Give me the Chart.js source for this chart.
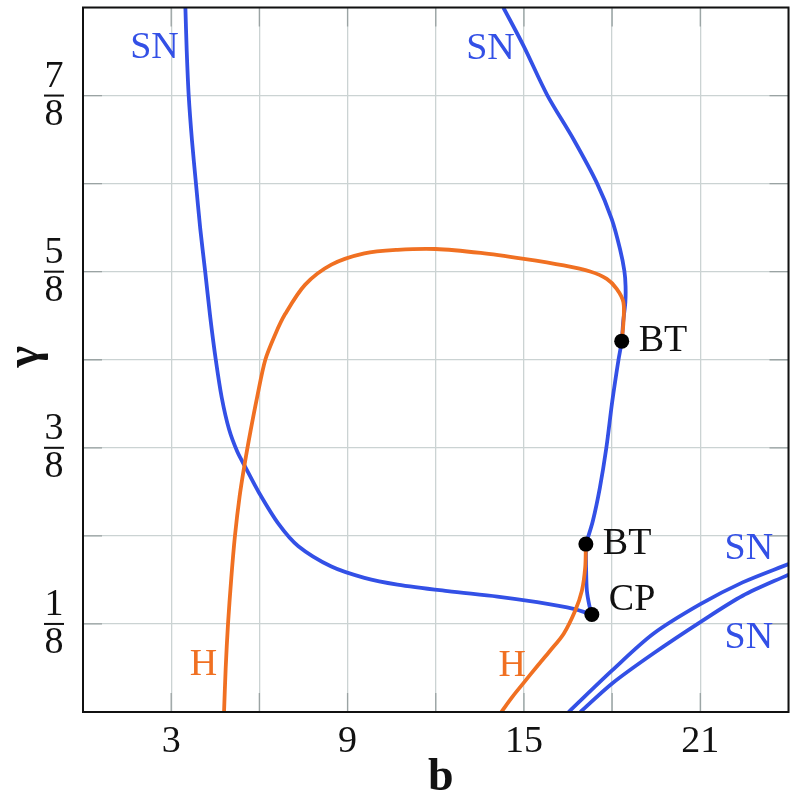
<!DOCTYPE html>
<html>
<head>
<meta charset="utf-8">
<script src="https://cdn.jsdelivr.net/npm/chart.js@4.4.1/dist/chart.umd.min.js"></script>
<style>
  html, body { margin: 0; padding: 0; background: #fff; }
  #wrap { width: 796px; height: 792px; }
</style>
</head>
<body>
<div id="wrap"><canvas id="chart" width="796" height="792"></canvas></div>
<script>
'use strict';

// axis setup
let xTickLabels = [3, 9, 15, 21];
let yTickLabels = [[1, 8], [3, 8], [5, 8], [7, 8]];

// SN curve, left branch: top-left down to the cusp CP
let snLeftB = [3.483, 3.528, 3.596, 3.708, 3.843, 3.989, 4.157, 4.326, 4.517, 4.719, 4.966, 5.247, 5.528, 5.978, 6.652, 7.326, 8.449, 9.573, 10.697, 12.405, 14.097, 15.45, 16.69, 17.31];
let snLeftG = [1.0, 0.939, 0.875, 0.811, 0.75, 0.686, 0.625, 0.5615, 0.5, 0.4464, 0.4016, 0.3697, 0.3472, 0.312, 0.267, 0.2353, 0.2065, 0.1905, 0.1809, 0.1716, 0.1638, 0.1558, 0.1465, 0.1384];

// SN curve, from CP up to the lower BT
let snCuspB = [17.31, 17.226, 17.141, 17.114, 17.107];
let snCuspG = [0.1384, 0.1511, 0.1723, 0.2052, 0.2383];

// SN curve, lower BT up through upper BT to the top
let snMidB = [17.107, 17.344, 17.581, 17.801, 18.004, 18.217, 18.326, 18.376, 18.45, 18.457, 18.417, 18.268, 17.987, 17.48, 16.69, 15.788, 15.0, 14.3];
let snMidG = [0.2383, 0.2712, 0.3178, 0.3743, 0.4407, 0.5, 0.5264, 0.5537, 0.5819, 0.6045, 0.6261, 0.6572, 0.6996, 0.751, 0.8126, 0.8761, 0.9445, 1.0];

// two SN curves bottom right
let snUpB = [16.52, 18, 19.4, 21, 22.44, 24];
let snUpG = [0, 0.059, 0.111, 0.153, 0.184, 0.21];
let snLowB = [16.92, 18, 19.4, 21, 22.44, 24];
let snLowG = [0, 0.0405, 0.083, 0.1276, 0.165, 0.195];

// Hopf curve, left piece (bottom to upper BT)
let hLeftB = [4.798, 4.854, 4.933, 5.045, 5.169, 5.326, 5.506, 5.697, 5.921, 6.202, 6.539, 6.876, 7.551, 8.45, 9.573, 10.697, 11.989, 13.532, 15.0, 16.353, 17.253, 17.818, 18.156, 18.383, 18.386, 18.326];
let hLeftG = [0, 0.0625, 0.125, 0.1905, 0.25, 0.3057, 0.3536, 0.3984, 0.4464, 0.5, 0.536, 0.5648, 0.6063, 0.635, 0.651, 0.656, 0.6572, 0.6516, 0.6431, 0.6338, 0.6253, 0.6148, 0.6007, 0.5819, 0.5537, 0.5264];

// Hopf curve, right piece (lower BT to bottom)
let hRightB = [17.107, 17.084, 16.972, 16.746, 16.353, 15.89, 15.45, 15.01, 14.6, 14.23];
let hRightG = [0.2383, 0.2052, 0.1723, 0.1441, 0.1112, 0.0869, 0.065, 0.0424, 0.0212, 0];

// special points
let ptName = ['BT', 'BT', 'CP'];
let ptB = [18.326, 17.107, 17.31];
let ptG = [0.5264, 0.2383, 0.1384];

// curve labels
let lblText = ['SN', 'SN', 'SN', 'SN', 'H', 'H'];
let lblB = [2.43, 13.86, 22.65, 22.65, 4.1, 14.6];
let lblG = [0.942, 0.941, 0.2316, 0.1045, 0.066, 0.065];
let lblColor = ['blue', 'blue', 'blue', 'blue', 'orange', 'orange'];

let BLUE = '#3350e6';
let ORANGE = '#f07022';
let SERIF = '"Liberation Serif", "Times New Roman", serif';

function pts(bs, gs) {
    let out = [];
    for (let i = 0; i < bs.length; i++) {
        out.push({ x: bs[i], y: gs[i] });
    }
    return out;
}

function curve(data, color) {
    return {
        data: data,
        showLine: true,
        borderColor: color,
        borderWidth: 3.8,
        pointRadius: 0,
        tension: 0.3,
        fill: false
    };
}

let decor = {
    id: 'decor',
    beforeDatasetsDraw(chart) {
        let ctx = chart.ctx;
        let a = chart.chartArea;
        let xs = chart.scales.x;
        let ys = chart.scales.y;
        ctx.save();
        // inward tick marks
        ctx.strokeStyle = '#9aa3a3';
        ctx.lineWidth = 1.3;
        ctx.beginPath();
        for (let v = 3; v < 24; v += 3) {
            let px = xs.getPixelForValue(v);
            ctx.moveTo(px, a.bottom); ctx.lineTo(px, a.bottom - 19);
            ctx.moveTo(px, a.top); ctx.lineTo(px, a.top + 19);
        }
        for (let k = 1; k < 8; k++) {
            let py = ys.getPixelForValue(k / 8);
            ctx.moveTo(a.left, py); ctx.lineTo(a.left + 19, py);
            ctx.moveTo(a.right, py); ctx.lineTo(a.right - 19, py);
        }
        ctx.stroke();
        ctx.restore();
    },
    afterDraw(chart) {
        let ctx = chart.ctx;
        let a = chart.chartArea;
        let xs = chart.scales.x;
        let ys = chart.scales.y;
        ctx.save();
        // frame
        ctx.strokeStyle = '#111';
        ctx.lineWidth = 2;
        ctx.strokeRect(a.left, a.top, a.right - a.left, a.bottom - a.top);

        // y tick labels as fractions
        ctx.fillStyle = '#111';
        ctx.font = '38px ' + SERIF;
        ctx.textAlign = 'center';
        ctx.textBaseline = 'middle';
        for (let i = 0; i < yTickLabels.length; i++) {
            let f = yTickLabels[i];
            let py = ys.getPixelForValue(f[0] / f[1]);
            ctx.fillText(String(f[0]), 54, py - 19);
            ctx.fillText(String(f[1]), 54, py + 19);
            ctx.fillRect(44, py - 1, 20, 2);
        }

        // axis titles
        ctx.font = 'bold 46px ' + SERIF;
        ctx.textBaseline = 'alphabetic';
        ctx.fillText('b', (a.left + a.right) / 2 + 5, 790);
        ctx.save();
        ctx.translate(38, (a.top + a.bottom) / 2 - 3);
        ctx.rotate(-Math.PI / 2);
        ctx.fillText('γ', 0, 0);
        ctx.restore();

        // curve labels
        ctx.font = '38px ' + SERIF;
        ctx.textBaseline = 'middle';
        for (let i = 0; i < lblText.length; i++) {
            ctx.fillStyle = lblColor[i] === 'blue' ? BLUE : ORANGE;
            ctx.fillText(lblText[i], xs.getPixelForValue(lblB[i]), ys.getPixelForValue(lblG[i]));
        }

        // point labels
        ctx.fillStyle = '#111';
        ctx.textAlign = 'left';
        for (let i = 0; i < ptName.length; i++) {
            let px = xs.getPixelForValue(ptB[i]);
            let py = ys.getPixelForValue(ptG[i]);
            let dy = ptName[i] === 'CP' ? -14 : 0;
            ctx.fillText(ptName[i], px + 17, py + dy);
        }
        ctx.restore();
    }
};

let ctx = document.getElementById('chart').getContext('2d');
let chart = new Chart(ctx, {
    type: 'scatter',
    data: {
        datasets: [
            {
                data: pts(ptB, ptG),
                pointRadius: 7.5,
                pointBackgroundColor: '#000',
                pointBorderWidth: 0,
                showLine: false
            },
            curve(pts(hLeftB, hLeftG), ORANGE),
            curve(pts(hRightB, hRightG), ORANGE),
            curve(pts(snLeftB, snLeftG), BLUE),
            curve(pts(snCuspB, snCuspG), BLUE),
            curve(pts(snMidB, snMidG), BLUE),
            curve(pts(snUpB, snUpG), BLUE),
            curve(pts(snLowB, snLowG), BLUE)
        ]
    },
    options: {
        responsive: false,
        animation: false,
        devicePixelRatio: 1,
        layout: { padding: { top: 4, right: 3, left: 0, bottom: 0 } },
        plugins: {
            legend: { display: false },
            tooltip: { enabled: false }
        },
        scales: {
            x: {
                type: 'linear',
                min: 0,
                max: 24,
                afterFit: function (s) { s.height = 80; },
                border: { display: false },
                grid: { color: '#cbd3d3', lineWidth: 1.3, drawTicks: false },
                ticks: {
                    stepSize: 3,
                    padding: 7,
                    maxRotation: 0,
                    autoSkip: false,
                    color: '#111',
                    font: { family: SERIF, size: 38 },
                    callback: function (v) { return xTickLabels.indexOf(v) >= 0 ? String(v) : ''; }
                }
            },
            y: {
                type: 'linear',
                min: 0,
                max: 1,
                afterFit: function (s) { s.width = 83; },
                border: { display: false },
                grid: { color: '#cbd3d3', lineWidth: 1.3, drawTicks: false },
                ticks: { stepSize: 0.125, display: false }
            }
        }
    },
    plugins: [decor]
});
</script>
</body>
</html>
